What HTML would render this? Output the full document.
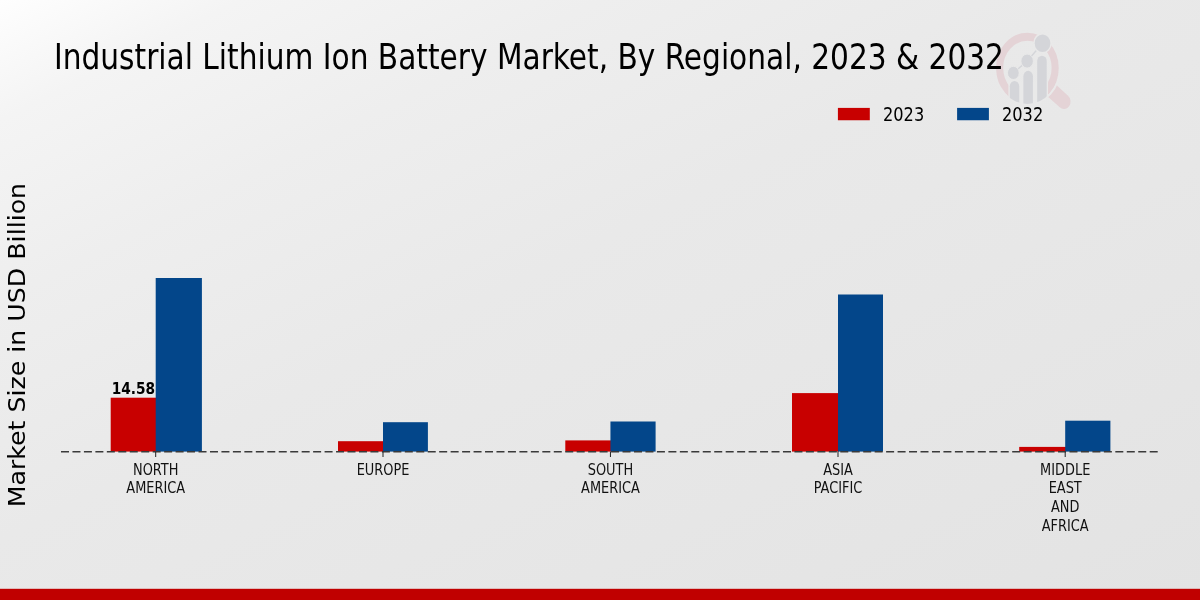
<!DOCTYPE html>
<html><head><meta charset="utf-8"><title>Industrial Lithium Ion Battery Market, By Regional, 2023 &amp; 2032</title>
<style>
html,body{margin:0;padding:0;width:1200px;height:600px;overflow:hidden}
body{background:linear-gradient(to bottom right,#fefefe 0%,#f4f4f4 10%,#eeeeee 25%,#e9e9e9 45%,#e3e3e3 100%);font-family:"DejaVu Sans","Liberation Sans",sans-serif}
svg{position:absolute;left:0;top:0;will-change:transform}
.c{font-family:"DejaVu Sans Condensed","DejaVu Sans","Liberation Sans",sans-serif;font-stretch:condensed}
</style></head><body>
<svg width="1200" height="600" viewBox="0 0 1200 600">
<g transform="translate(1027.4,68) scale(0.89,1)">
 <defs><clipPath id="lc"><circle cx="0" cy="0.3" r="35.6"/></clipPath></defs>
 <line x1="27.8" y1="22.9" x2="41" y2="33.5" stroke="#e4d3d6" stroke-width="15" stroke-linecap="round"/>
 <circle cx="0" cy="0" r="36.3" fill="none" stroke="#e9e9e9" stroke-width="2.4"/>
 <circle cx="0" cy="0" r="31.2" fill="none" stroke="#e4d3d6" stroke-width="8"/>
 <g clip-path="url(#lc)">
  <rect x="-21.3" y="14" width="44.5" height="30" fill="#e9e9e9"/>
 </g>
 <g clip-path="url(#lc)" fill="#d4d5d9">
  <path d="M-19.8,40 V18.2 a5.3,5.3 0 0 1 10.6,0 V40 Z"/>
  <path d="M-4.5,40 V8.2 a5.35,5.35 0 0 1 10.7,0 V40 Z"/>
  <path d="M11.0,40 V-7.0 a5.35,5.35 0 0 1 10.7,0 V40 Z"/>
 </g>
 <polyline points="-15.8,4.9 -0.3,-6.9 17,-24.8" fill="none" stroke="#d4d5d9" stroke-width="1.5"/>
 <circle cx="-15.8" cy="4.9" r="6.6" fill="#d4d5d9" stroke="#e9e9e9" stroke-width="1"/>
 <circle cx="-0.3" cy="-6.9" r="7.0" fill="#d4d5d9" stroke="#e9e9e9" stroke-width="1"/>
 <circle cx="17" cy="-24.8" r="9.6" fill="#d4d5d9" stroke="#e9e9e9" stroke-width="1.6"/>
</g>
<text class="c" transform="translate(54.0,69.1) scale(0.915,1)" font-size="36" fill="#000">Industrial Lithium Ion Battery Market, By Regional, 2023 &amp; 2032</text>
<rect x="837.9" y="107.9" width="31.9" height="12.35" fill="#c80000"/>
<rect x="957.1" y="107.9" width="31.8" height="12.35" fill="#03468a"/>
<text class="c" transform="translate(883.0,121.4) scale(0.9,1)" font-size="20" fill="#000">2023</text>
<text class="c" transform="translate(1002.0,121.4) scale(0.9,1)" font-size="20" fill="#000">2032</text>
<text transform="translate(24.8,345.1) scale(0.895,1) rotate(-90)" font-size="25.25" text-anchor="middle" fill="#000" font-family="DejaVu Sans, Liberation Sans, sans-serif">Market Size in USD Billion</text>
<rect x="110.7" y="397.7" width="46.00" height="53.90" fill="#c80000"/>
<rect x="338.0" y="441.2" width="46.00" height="10.40" fill="#c80000"/>
<rect x="565.3" y="440.4" width="46.15" height="11.20" fill="#c80000"/>
<rect x="792.0" y="393.1" width="47.00" height="58.50" fill="#c80000"/>
<rect x="1019.2" y="446.9" width="47.00" height="4.70" fill="#c80000"/>
<rect x="155.7" y="278.0" width="46.20" height="173.60" fill="#03468a"/>
<rect x="383.0" y="422.2" width="44.90" height="29.40" fill="#03468a"/>
<rect x="610.45" y="421.5" width="45.15" height="30.10" fill="#03468a"/>
<rect x="838.0" y="294.5" width="45.00" height="157.10" fill="#03468a"/>
<rect x="1065.2" y="420.7" width="45.20" height="30.90" fill="#03468a"/>
<line x1="61" y1="451.7" x2="1160" y2="451.7" stroke="#3a3a3a" stroke-width="1.6" stroke-dasharray="8 3.46"/>
<line x1="155.7" y1="451.7" x2="155.7" y2="457" stroke="#222" stroke-width="1"/>
<line x1="383.0" y1="451.7" x2="383.0" y2="457" stroke="#222" stroke-width="1"/>
<line x1="610.45" y1="451.7" x2="610.45" y2="457" stroke="#222" stroke-width="1"/>
<line x1="838.0" y1="451.7" x2="838.0" y2="457" stroke="#222" stroke-width="1"/>
<line x1="1065.2" y1="451.7" x2="1065.2" y2="457" stroke="#222" stroke-width="1"/>
<text class="c" transform="translate(155.7,474.70) scale(0.898,1)" font-size="16" text-anchor="middle" fill="#111">NORTH</text>
<text class="c" transform="translate(155.7,493.30) scale(0.898,1)" font-size="16" text-anchor="middle" fill="#111">AMERICA</text>
<text class="c" transform="translate(383.0,474.70) scale(0.898,1)" font-size="16" text-anchor="middle" fill="#111">EUROPE</text>
<text class="c" transform="translate(610.45,474.70) scale(0.898,1)" font-size="16" text-anchor="middle" fill="#111">SOUTH</text>
<text class="c" transform="translate(610.45,493.30) scale(0.898,1)" font-size="16" text-anchor="middle" fill="#111">AMERICA</text>
<text class="c" transform="translate(838.0,474.70) scale(0.898,1)" font-size="16" text-anchor="middle" fill="#111">ASIA</text>
<text class="c" transform="translate(838.0,493.30) scale(0.898,1)" font-size="16" text-anchor="middle" fill="#111">PACIFIC</text>
<text class="c" transform="translate(1065.2,474.70) scale(0.898,1)" font-size="16" text-anchor="middle" fill="#111">MIDDLE</text>
<text class="c" transform="translate(1065.2,493.30) scale(0.898,1)" font-size="16" text-anchor="middle" fill="#111">EAST</text>
<text class="c" transform="translate(1065.2,511.90) scale(0.898,1)" font-size="16" text-anchor="middle" fill="#111">AND</text>
<text class="c" transform="translate(1065.2,530.50) scale(0.898,1)" font-size="16" text-anchor="middle" fill="#111">AFRICA</text>
<text transform="translate(133.4,394.2) scale(0.86,1)" font-size="16" font-weight="bold" text-anchor="middle" fill="#000" font-family="DejaVu Sans, Liberation Sans, sans-serif">14.58</text>
<rect x="0" y="588.8" width="1200" height="11.2" fill="#c00000"/>
</svg>
</body></html>
